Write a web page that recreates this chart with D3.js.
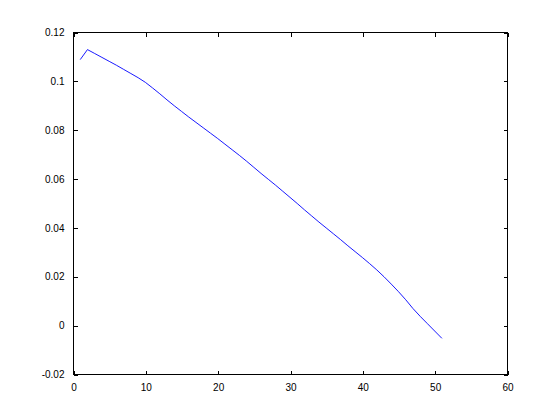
<!DOCTYPE html>
<html>
<head>
<meta charset="utf-8">
<script src="https://cdn.jsdelivr.net/npm/d3@7"></script>
<style>
  html, body { margin: 0; padding: 0; background: #ffffff; }
  svg { display: block; }
  text { font-family: "Liberation Sans", Arial, Helvetica, sans-serif; font-size: 10px; fill: #000; }
</style>
</head>
<body>
<svg id="chart" width="560" height="420"></svg>
<script>
// ---- data ----
const xValues = [1,2,3,4,5,6,7,8,9,10,11,12,13,14,15,16,17,18,19,20,21,22,23,24,25,26,27,28,29,30,31,32,33,34,35,36,37,38,39,40,41,42,43,44,45,46,47,48,49,50,51];
const yValues = [0.1087,0.1128,0.1112,0.1096,0.1080,0.1064,0.1047,0.1030,0.1013,0.0994,
                 0.0971,0.0947,0.0922,0.0898,0.0875,0.0852,0.0830,0.0808,0.0786,0.0764,
                 0.0741,0.0718,0.0695,0.0671,0.0646,0.0621,0.0597,0.0573,0.0548,0.0523,
                 0.0498,0.0472,0.0447,0.0422,0.0398,0.0374,0.0350,0.0325,0.0301,0.0277,
                 0.0252,0.0226,0.0198,0.0168,0.0137,0.0104,0.0068,0.0036,0.0006,-0.0024,
                 -0.0054];
const xTicks = [0,10,20,30,40,50,60];
const yTicks = [-0.02,0,0.02,0.04,0.06,0.08,0.1,0.12];
const xTickLabels = ["0","10","20","30","40","50","60"];
const yTickLabels = ["-0.02","0","0.02","0.04","0.06","0.08","0.1","0.12"];

// ---- layout ----
(function () {
const svg = d3.select("#chart");
const pLeft = 73, pRight = 507, pTop = 32, pBottom = 374;
const x = d3.scaleLinear().domain([0, 60]).range([pLeft, pRight]);
const y = d3.scaleLinear().domain([-0.02, 0.12]).range([pBottom, pTop]);
const tickLen = 4;

svg.append("rect")
  .attr("x", pLeft + 0.5).attr("y", pTop + 0.5)
  .attr("width", pRight - pLeft).attr("height", pBottom - pTop)
  .attr("fill", "#fff").attr("stroke", "#000").attr("stroke-width", 1)
  .attr("shape-rendering", "crispEdges");

const xAxisB = d3.axisBottom(x).tickValues(xTicks)
  .tickFormat((d, i) => xTickLabels[i]).tickSizeInner(-tickLen).tickSizeOuter(0).tickPadding(9);
const gxb = svg.append("g").attr("transform", `translate(0.5,${pBottom + 0.5})`).call(xAxisB);
const xAxisT = d3.axisTop(x).tickValues(xTicks).tickFormat("").tickSizeInner(-tickLen).tickSizeOuter(0);
const gxt = svg.append("g").attr("transform", `translate(0.5,${pTop + 0.5})`).call(xAxisT);
const yAxisL = d3.axisLeft(y).tickValues(yTicks)
  .tickFormat((d, i) => yTickLabels[i]).tickSizeInner(-tickLen).tickSizeOuter(0).tickPadding(9);
const gyl = svg.append("g").attr("transform", `translate(${pLeft + 0.5},0.5)`).call(yAxisL);
const yAxisR = d3.axisRight(y).tickValues(yTicks).tickFormat("").tickSizeInner(-tickLen).tickSizeOuter(0);
const gyr = svg.append("g").attr("transform", `translate(${pRight + 0.5},0.5)`).call(yAxisR);

[gxb, gxt, gyl, gyr].forEach(g => {
  g.select(".domain").remove();
  g.selectAll("line").attr("stroke", "#000").attr("shape-rendering", "crispEdges");
  g.selectAll("text").attr("font-family", null).attr("font-size", null).attr("fill", "#000");
});

const line = d3.line().x((d, i) => x(xValues[i])).y(d => y(d));
svg.append("path")
  .datum(yValues)
  .attr("d", line)
  .attr("fill", "none")
  .attr("stroke", "#0000ff")
  .attr("stroke-width", 0.9);
})();
</script>
</body>
</html>
